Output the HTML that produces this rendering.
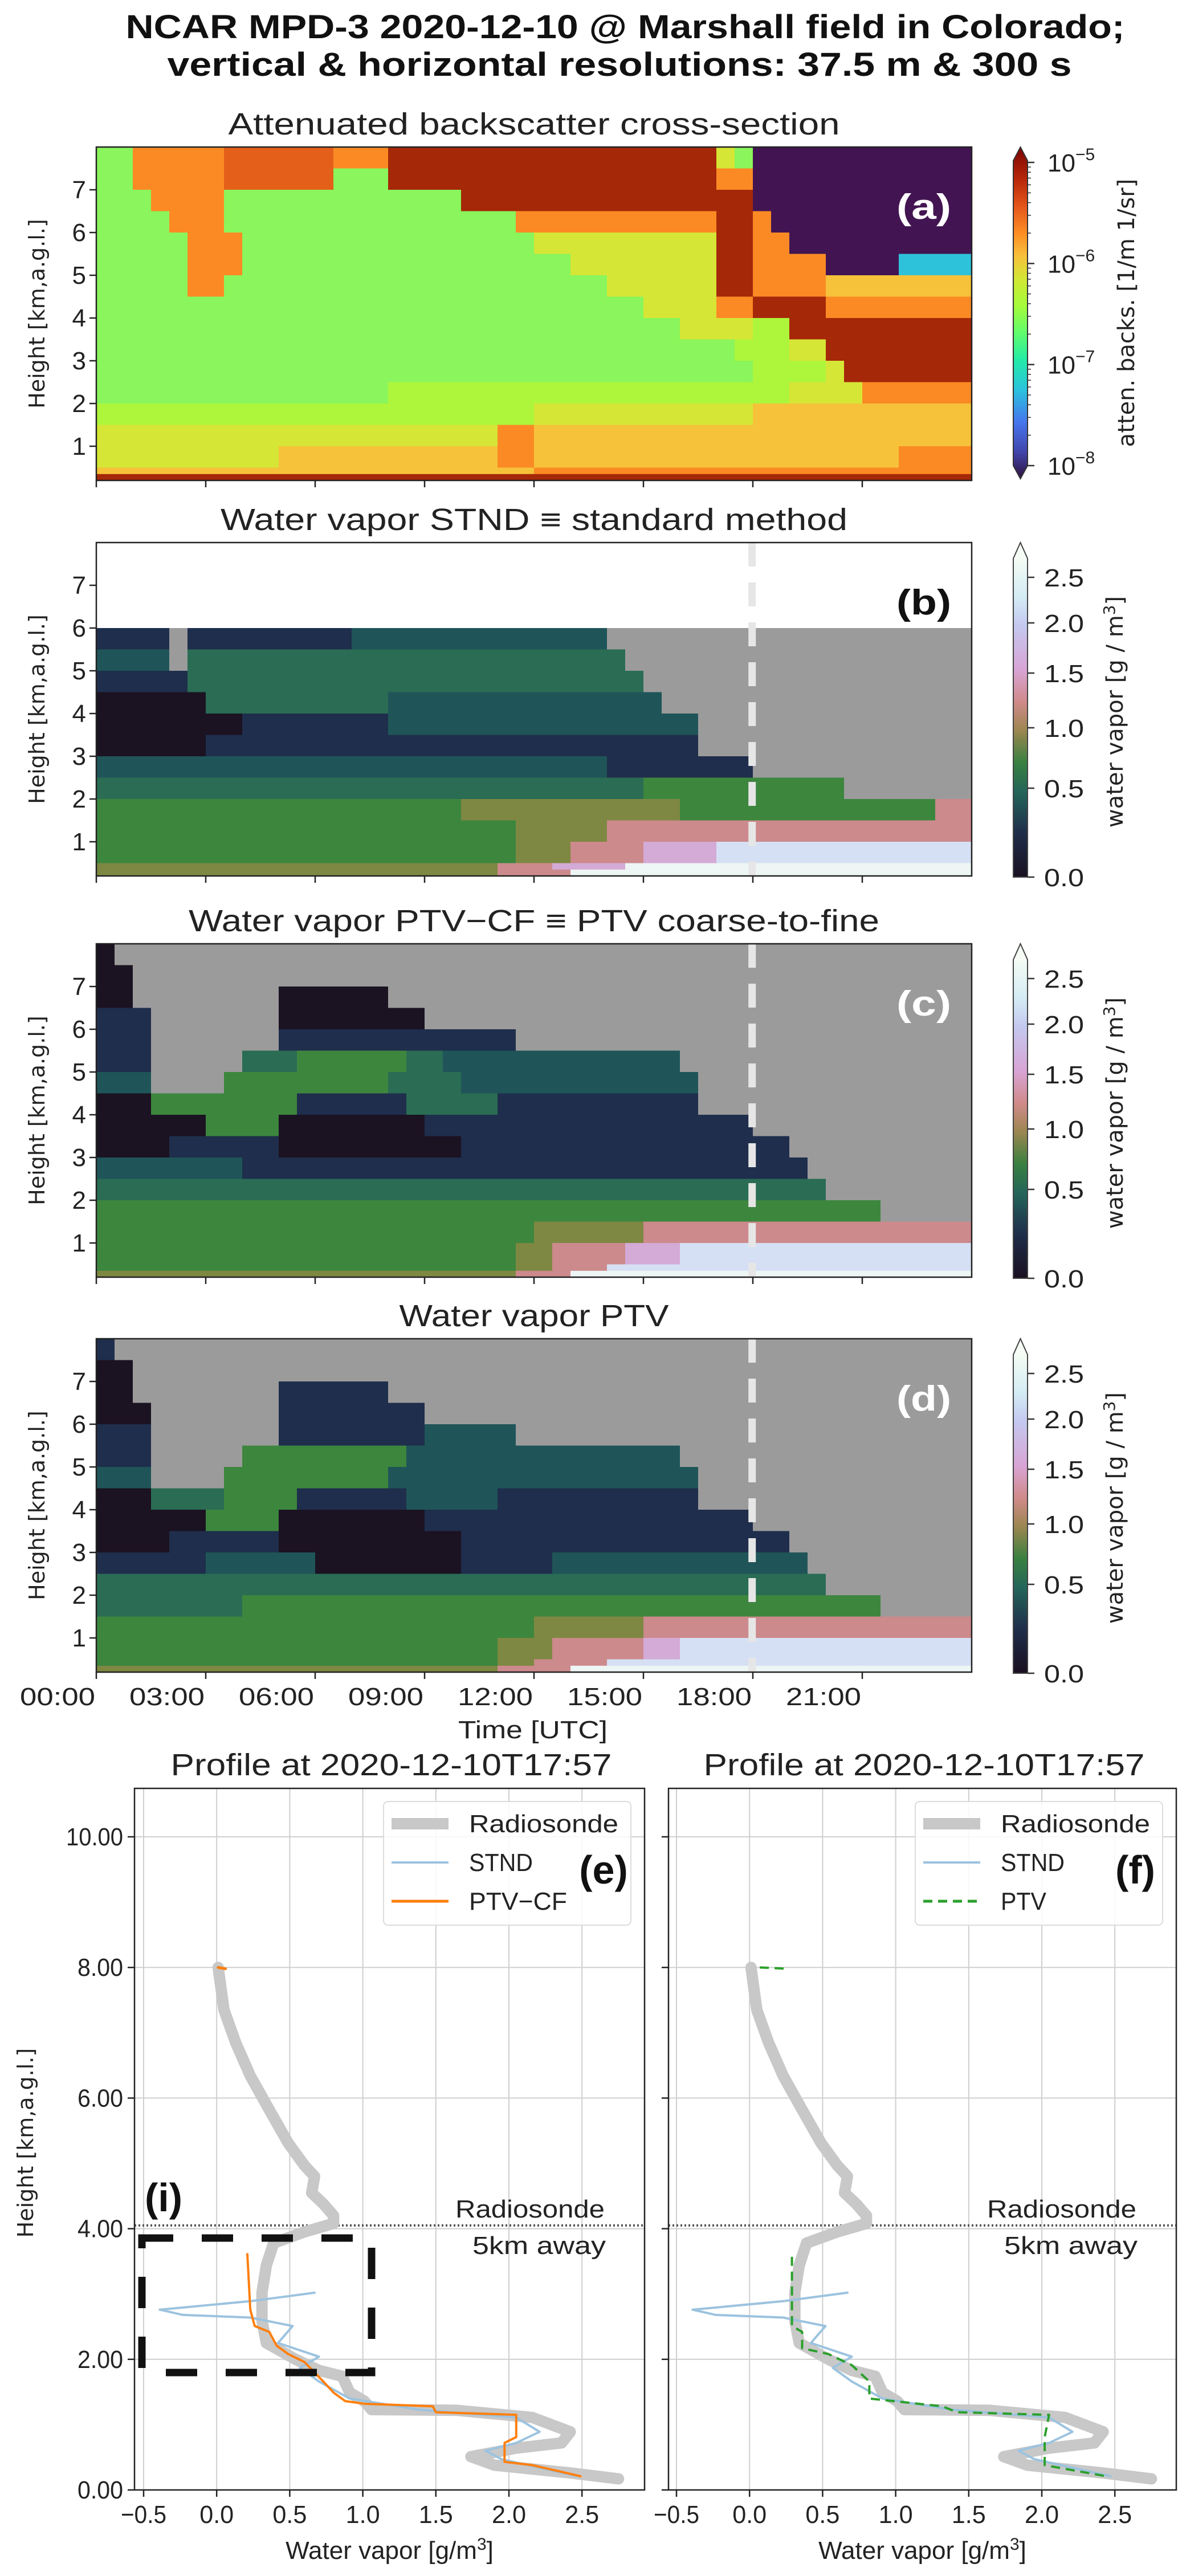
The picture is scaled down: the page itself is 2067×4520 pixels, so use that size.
<!DOCTYPE html>
<html><head><meta charset="utf-8"><title>NCAR MPD-3 water vapor</title>
<style>html,body{margin:0;padding:0;background:#fff}svg{display:block}</style></head>
<body>
<svg id="fig" xmlns="http://www.w3.org/2000/svg" width="2067" height="4520" viewBox="0 0 2067 4520" font-family="Liberation Sans, sans-serif">
<rect x="0" y="0" width="2067" height="4520" fill="#fff"/>
<defs>
<linearGradient id="turbo" x1="0" y1="1" x2="0" y2="0">
<stop offset="0" stop-color="#30123b"/><stop offset="0.08" stop-color="#4145ab"/><stop offset="0.17" stop-color="#4675ed"/><stop offset="0.27" stop-color="#2ac4dd"/><stop offset="0.36" stop-color="#24eca6"/><stop offset="0.44" stop-color="#61fc6c"/><stop offset="0.52" stop-color="#a4fc3b"/><stop offset="0.6" stop-color="#d1e834"/><stop offset="0.67" stop-color="#f7c13a"/><stop offset="0.74" stop-color="#fd8e24"/><stop offset="0.82" stop-color="#e5561a"/><stop offset="0.9" stop-color="#b8280a"/><stop offset="1" stop-color="#7a0403"/>
</linearGradient>
<linearGradient id="wv" x1="0" y1="1" x2="0" y2="0">
<stop offset="0" stop-color="#1a1020"/><stop offset="0.14" stop-color="#1f2e4a"/><stop offset="0.27" stop-color="#24665a"/><stop offset="0.36" stop-color="#3a8040"/><stop offset="0.46" stop-color="#9c8650"/><stop offset="0.55" stop-color="#d08a8a"/><stop offset="0.65" stop-color="#d8a4d4"/><stop offset="0.79" stop-color="#c4c8f0"/><stop offset="0.88" stop-color="#d4ecf4"/><stop offset="1" stop-color="#f4fbf4"/>
</linearGradient>
</defs>
<g id="root"></g>
</svg>
<script>
// ---------- data ----------
const timeTickLabels = ["00:00","03:00","06:00","09:00","12:00","15:00","18:00","21:00"];
const timeTickHours = [0,3,6,9,12,15,18,21];
const heightTicks = [1,2,3,4,5,6,7];
const rowEdgesKm = [8,7.5,7,6.5,6,5.5,5,4.5,4,3.5,3,2.5,2,1.5,1,0.5,0.35,0.2];
const profileHour = 17.98;
const backscatterRows = ["2g5o6O3o18r1y1g12D","2g5o6O3g18r2o12D","3g4o13g16r12D","4g3o16g11o2r1o11D","5g3o16g10y2r2o10D","5g3o18g8y2r4o4D4c","5g2o21g6y2r4o8Y","30g4y2o4r8o","32g4y2l10r","35g3l2y8r","36g4l1y7r","16g22l4y6o","24l12y12Y","22y2o24Y","10y12Y2o20Y4o","24Y24o","48r"];
const stndRows = ["48e","48e","48e","48e","4n1a9n14t20a","4t1a24T19a","5n25T18a","6k10T15t17a","8k8n17t15a","6k27n15a","28t8n12a","30T11G7a","20G12v14G2p","23G5v20p","23G3v4p4P14w","22v3p4P19W","22v4p22W"];
const ptvcfRows = ["1k47a","2k46a","2k8a6k32a","3n7a8k30a","3n7a13n25a","3n5a3T6G2T13t16a","3t4a9G4T13t15a","3k4G4G6n5T11n15a","6k4G8k18n12a","4k6n10k18n10a","8t12n19n9a","40T8a","43G5a","24G6v18p","23G2v4p3P16w","23G2v3p20w","23v3p22W"];
const ptvRows = ["1n47a","2k46a","2k8a6n32a","3k7a8n30a","3n7a8n5t25a","3n5a9G2t13t16a","3t4a9G4t13t15a","3k4T4G6n5t11n15a","6k4G8k18n12a","4k6n10k18n10a","6n6t8k5n14t9a","40T8a","8T35G5a","24G6v18p","22G3v5p2P16w","22G2v4p20w","22v4p22W"];
const backscatterColors = {D:"#421552",c:"#2ec2da",g:"#8af55c",l:"#adf63c",y:"#d6e636",Y:"#f6c23a",o:"#fb8a24",O:"#e4601a",r:"#a52808"};
const wvColors = {k:"#1b1222",n:"#1f2e4c",t:"#1f5558",T:"#2a6c54",G:"#3d863e",v:"#7e8842",p:"#cc8a8c",P:"#d4aad6",w:"#d6e0f4",W:"#eef5f5",a:"#9b9b9b",e:"#ffffff"};
// profiles (value g/m3, height km)
const radiosondeVal = [0.01,0.05,0.13,0.23,0.36,0.49,0.6,0.67,0.65,0.73,0.8,0.8,0.6,0.39,0.34,0.31,0.31,0.34,0.54,0.7,0.86,0.91,1.01,1.06,1.64,2.16,2.42,2.36,2.05,1.74,1.9,2.42,2.75];
const radiosondeKm = [8.0,7.35,6.85,6.34,5.82,5.31,4.97,4.8,4.55,4.38,4.2,4.08,3.95,3.78,3.44,3.02,2.59,2.25,2.0,1.83,1.74,1.49,1.36,1.23,1.22,1.11,0.89,0.72,0.64,0.51,0.38,0.26,0.17];
const stndVal = [0.67,0.23,-0.39,-0.23,0.23,0.52,0.42,0.7,0.57,0.7,0.91,1.38,2.05,2.21,2.05,1.84,1.95,2.47];
const stndKm = [3.02,2.89,2.76,2.68,2.64,2.51,2.25,2.04,1.87,1.66,1.4,1.23,1.11,0.89,0.72,0.6,0.47,0.21];
const ptvcfTopVal = [0.01,0.06];
const ptvcfTopKm = [8.0,7.98];
const ptvcfVal = [0.21,0.23,0.26,0.36,0.41,0.49,0.6,0.73,0.8,0.88,1.01,1.48,1.5,2.05,2.05,1.97,1.97,2.16,2.49];
const ptvcfKm = [3.61,2.76,2.51,2.42,2.21,2.08,1.96,1.66,1.49,1.36,1.32,1.28,1.19,1.15,0.81,0.72,0.43,0.38,0.21];
const ptvTopVal = [0.07,0.27];
const ptvTopKm = [8.0,7.98];
const ptvVal = [0.29,0.29,0.36,0.36,0.54,0.7,0.82,0.82,1.32,1.42,2.05,2.02,2.02,2.44];
const ptvKm = [3.57,2.51,2.42,2.17,2.08,1.91,1.66,1.4,1.28,1.19,1.15,0.81,0.38,0.21];
const profXTicks = [-0.5,0,0.5,1,1.5,2,2.5];
const profXLabels = ["\u22120.5","0.0","0.5","1.0","1.5","2.0","2.5"];
const profYTicks = [0,2,4,6,8,10];
const profYLabels = ["0.00","2.00","4.00","6.00","8.00","10.00"];
const wvCbarTicks = [0,0.5,1,1.5,2,2.5];
const wvCbarLabels = ["0.0","0.5","1.0","1.5","2.0","2.5"];
const bsCbarExps = ["\u22125","\u22126","\u22127","\u22128"];

// ---------- helpers ----------
const NS = "http://www.w3.org/2000/svg";
const root = document.getElementById("root");
function mk(tag, attrs, parent, text){
  const e = document.createElementNS(NS, tag);
  for (const k in attrs) e.setAttribute(k, attrs[k]);
  if (text !== undefined) e.textContent = text;
  (parent || root).appendChild(e);
  return e;
}
function parseRLE(s){
  const out = []; const re = /(\d+)([A-Za-z])/g; let m;
  while ((m = re.exec(s))) out.push([parseInt(m[1]), m[2]]);
  return out;
}
const X0 = 169, X1 = 1705;
function tx(h){ return X0 + (X1 - X0) * h / 24; }

function heatPanel(name, top, rows, colors, title, label, labelColor, dashed){
  const g = mk("g", {});
  
  
  const ky = 75;
  const hy = km => top + (8 - km) * ky;
  rows.forEach((row, r) => {
    let col = 0;
    parseRLE(row).forEach(([n, c]) => {
      const x = tx(col * 0.5), x2 = tx(Math.min(48, col + n) * 0.5);
      const y = hy(rowEdgesKm[r]), y2 = hy(rowEdgesKm[r + 1]);
      const rc = mk("rect", {x: x.toFixed(1), y: y.toFixed(1), width: (x2 - x + 0.6).toFixed(1), height: (y2 - y + 0.6).toFixed(1), fill: colors[c] || "#999"}, g);
      
      
      col += n;
    });
  });
  const bottom = hy(0.2);
  if (dashed){
    const dl = mk("line", {x1: tx(profileHour), x2: tx(profileHour), y1: top, y2: bottom, stroke: "#e6e6e6", "stroke-width": 13, "stroke-dasharray": "42 28"}, g);
    
    
  }
  const fr = mk("rect", {x: X0, y: top, width: X1 - X0, height: bottom - top, fill: "none", stroke: "#222", "stroke-width": 2.5}, g);
  
  
  heightTicks.forEach(k => {
    const y = hy(k);
    mk("line", {x1: X0 - 12, x2: X0, y1: y, y2: y, stroke: "#222", "stroke-width": 2.5}, g);
    const t = mk("text", {x: X0 - 18, y: y + 15, "font-size": 44, "text-anchor": "end", fill: "#222"}, g, String(k));
    
    
  });
  timeTickHours.forEach(h => {
    mk("line", {x1: tx(h), x2: tx(h), y1: bottom, y2: bottom + 12, stroke: "#222", "stroke-width": 2.5}, g);
  });
  const yl = mk("text", {x: 0, y: 0, "font-family": "DejaVu Sans, sans-serif", "font-size": 38, "text-anchor": "middle", transform: `translate(78 ${(top + bottom) / 2}) rotate(-90)`, fill: "#222"}, g, "Height [km,a.g.l.]");
  
  
  const tt = mk("text", {x: 937, y: top - 22, "font-size": 54, "text-anchor": "middle", fill: "#222", textLength: title[1], lengthAdjust: "spacingAndGlyphs"}, g, title[0]);
  
  
  const pl = mk("text", {x: 1621, y: top + 126, "font-size": 62, "font-weight": "bold", "text-anchor": "middle", fill: labelColor, textLength: 96, lengthAdjust: "spacingAndGlyphs"}, g, label);
  
  
  return {g, top, bottom};
}

// ---------- title ----------
const t1 = mk("text", {x: 1097, y: 67, "font-size": 58, "font-weight": "bold", "text-anchor": "middle", fill: "#111", textLength: 1753, lengthAdjust: "spacingAndGlyphs"}, root, "NCAR MPD-3 2020-12-10 @ Marshall field in Colorado;");


const t2 = mk("text", {x: 1087, y: 133, "font-size": 58, "font-weight": "bold", "text-anchor": "middle", fill: "#111", textLength: 1587, lengthAdjust: "spacingAndGlyphs"}, root, "vertical & horizontal resolutions: 37.5 m & 300 s");



// ---------- heat panels ----------
const pa = heatPanel("backscatter", 258, backscatterRows, backscatterColors, ["Attenuated backscatter cross-section", 1073], "(a)", "#fff", false);
const pb = heatPanel("stnd", 952, stndRows, wvColors, ["Water vapor STND \u2261  standard method", 1100], "(b)", "#111", true);
const pc = heatPanel("ptv-cf", 1656, ptvcfRows, wvColors, ["Water vapor PTV\u2212CF \u2261  PTV coarse-to-fine", 1212], "(c)", "#fff", true);
const pd = heatPanel("ptv", 2349, ptvRows, wvColors, ["Water vapor PTV", 473], "(d)", "#fff", true);

timeTickHours.forEach((h, i) => {
  const t = mk("text", {x: tx(h) - 2, y: pd.bottom + 58, "font-size": 44, "text-anchor": "end", fill: "#222", textLength: 132, lengthAdjust: "spacingAndGlyphs"}, root, timeTickLabels[i]);
  
  
});
const xt = mk("text", {x: 935, y: 3050, "font-size": 44, "text-anchor": "middle", fill: "#222", textLength: 262, lengthAdjust: "spacingAndGlyphs"}, root, "Time [UTC]");



// ---------- colorbars ----------
const CBX = 1778, CBW = 25;
(function(){
  const top = 258, bTop = 282, bBot = 817, bot = 840;
  const g = mk("g", {});
  
  
  mk("polygon", {points: `${CBX},${bTop} ${CBX + CBW / 2},${top} ${CBX + CBW},${bTop} ${CBX + CBW},${bBot} ${CBX + CBW / 2},${bot} ${CBX},${bBot}`, fill: "url(#turbo)", stroke: "#333", "stroke-width": 2}, g);
  bsCbarExps.forEach((e, i) => {
    const y = 285 + i * (817 - 285) / 3;
    mk("line", {x1: CBX + CBW, x2: CBX + CBW + 12, y1: y, y2: y, stroke: "#333", "stroke-width": 2.5}, g);
    for (let m = 2; m <= 9 && i < 3; m++) {
      const ym = y + (817 - 285) / 3 * (1 - Math.log10(m));
      mk("line", {x1: CBX + CBW, x2: CBX + CBW + 6, y1: ym, y2: ym, stroke: "#333", "stroke-width": 1.5}, g);
    }
    const t = mk("text", {x: 1838, y: y + 16, "font-size": 44, fill: "#222"}, g);
    
    
    mk("tspan", {}, t, "10");
    mk("tspan", {dy: -20, "font-size": 30}, t, e);
  });
  const lb = mk("text", {x: 0, y: 0, "font-family": "DejaVu Sans, sans-serif", "font-size": 40, "text-anchor": "middle", transform: `translate(1990 ${(top + bot) / 2}) rotate(-90)`, fill: "#222"}, g, "atten. backs. [1/m 1/sr]");
  
  
})();
const wvTickOffsets = [0, 156, 262, 358, 446, 526];
[pb, pc, pd].forEach(p => {
  const bot = p.bottom + 2, top = p.top, bTop = top + 28;
  const g = mk("g", {});
  
  
  mk("rect", {x: CBX, y: bTop, width: CBW, height: bot - bTop, fill: "url(#wv)"}, g);
  mk("polygon", {points: `${CBX},${bTop} ${CBX + CBW / 2},${top} ${CBX + CBW},${bTop}`, fill: "#f6fbf6"}, g);
  mk("polygon", {points: `${CBX},${bot} ${CBX},${bTop} ${CBX + CBW / 2},${top} ${CBX + CBW},${bTop} ${CBX + CBW},${bot}`, fill: "none", stroke: "#444", "stroke-width": 2}, g);
  wvCbarTicks.forEach((v, i) => {
    const y = bot - wvTickOffsets[i];
    mk("line", {x1: CBX + CBW, x2: CBX + CBW + 12, y1: y, y2: y, stroke: "#333", "stroke-width": 2.5}, g);
    const t = mk("text", {x: 1832, y: y + 16, "font-size": 44, fill: "#222", textLength: 70, lengthAdjust: "spacingAndGlyphs"}, g, wvCbarLabels[i]);
    
    
  });
  const lb = mk("text", {x: 0, y: 0, "font-family": "DejaVu Sans, sans-serif", "font-size": 40, "text-anchor": "middle", transform: `translate(1970 ${bot - 290}) rotate(-90)`, fill: "#222"}, g);
  
  
  mk("tspan", {}, lb, "water vapor [g / m");
  mk("tspan", {dy: -14, "font-size": 28}, lb, "3");
  mk("tspan", {dy: 14}, lb, "]");
});

// ---------- profile panels ----------
const PY0 = 4369, PKY = 114.6, PTOP = 3138;
function profPanel(name, left, right, x0, showYLabels, series, legendItems, label){
  const px = v => x0 + (v + 0.5) * 256.4;
  const py = k => PY0 - k * PKY;
  const g = mk("g", {});
  
  
  profXTicks.forEach((v, i) => {
    mk("line", {x1: px(v), x2: px(v), y1: PTOP, y2: PY0, stroke: "#cfcfcf", "stroke-width": 2}, g);
    mk("line", {x1: px(v), x2: px(v), y1: PY0, y2: PY0 + 12, stroke: "#222", "stroke-width": 2.5}, g);
    const t = mk("text", {x: px(v), y: PY0 + 58, "font-size": 44, "text-anchor": "middle", fill: "#222", textLength: profXLabels[i].length * 20, lengthAdjust: "spacingAndGlyphs"}, g, profXLabels[i]);
    
    
  });
  profYTicks.forEach((k, i) => {
    mk("line", {x1: left, x2: right, y1: py(k), y2: py(k), stroke: "#cfcfcf", "stroke-width": 2}, g);
    mk("line", {x1: left - 12, x2: left, y1: py(k), y2: py(k), stroke: "#222", "stroke-width": 2.5}, g);
    if (showYLabels){
      const t = mk("text", {x: left - 20, y: py(k) + 15, "font-size": 44, "text-anchor": "end", fill: "#222", textLength: profYLabels[i].length * 20, lengthAdjust: "spacingAndGlyphs"}, g, profYLabels[i]);
      
      
    }
  });
  const dot = mk("line", {x1: left, x2: right, y1: py(4.05), y2: py(4.05), stroke: "#555", "stroke-width": 4, "stroke-dasharray": "3 4"}, g);
  
  
  const r1 = mk("text", {x: right - 70, y: py(4.05) - 14, "font-size": 44, "text-anchor": "end", fill: "#222", textLength: 262, lengthAdjust: "spacingAndGlyphs"}, g, "Radiosonde");
  
  
  const r2 = mk("text", {x: right - 68, y: py(4.05) + 50, "font-size": 44, "text-anchor": "end", fill: "#222", textLength: 234, lengthAdjust: "spacingAndGlyphs"}, g, "5km away");
  
  
  series.forEach(s => {
    const pts = s.v.map((v, i) => `${px(v).toFixed(1)},${py(s.k[i]).toFixed(1)}`).join(" ");
    const pl = mk("polyline", {points: pts, fill: "none", stroke: s.c, "stroke-width": s.w, "stroke-linejoin": "round", "stroke-linecap": s.dash ? "butt" : "round", "stroke-dasharray": s.dash || "none"}, g);
    
    
  });
  mk("rect", {x: left, y: PTOP, width: right - left, height: PY0 - PTOP, fill: "none", stroke: "#222", "stroke-width": 2.5}, g);
  // legend
  const lg = mk("g", {}, g);
  
  
  const lx = right - 458;
  mk("rect", {x: lx, y: 3161, width: 434, height: 217, rx: 8, fill: "#fff", "fill-opacity": 0.85, stroke: "#dcdcdc", "stroke-width": 2}, lg);
  legendItems.forEach((it, i) => {
    const y = 3200 + i * 68;
    mk("line", {x1: lx + 14, x2: lx + 114, y1: y, y2: y, stroke: it.c, "stroke-width": it.w, "stroke-dasharray": it.dash || "none"}, lg);
    const t = mk("text", {x: lx + 150, y: y + 15, "font-size": 44, fill: "#222", textLength: it.tl, lengthAdjust: "spacingAndGlyphs"}, lg, it.t);
    
    
  });
  const pl = mk("text", {x: right - 72, y: 3305, "font-size": 70, "font-weight": "bold", "text-anchor": "middle", fill: "#111"}, g, label);
  
  
  const tt = mk("text", {x: (left + right) / 2 + 3, y: 3115, "font-size": 54, "text-anchor": "middle", fill: "#222", textLength: 774, lengthAdjust: "spacingAndGlyphs"}, g, "Profile at 2020-12-10T17:57");
  
  
  const xl = mk("text", {x: (left + right) / 2, y: 4490, "font-size": 44, "text-anchor": "middle", fill: "#222"}, g);
  
  
  mk("tspan", {}, xl, "Water vapor [g/m");
  mk("tspan", {dy: -16, "font-size": 30}, xl, "3");
  mk("tspan", {dy: 16}, xl, "]");
  return {px, py};
}
const grayW = 20;
const eP = profPanel("ptv-cf", 236, 1131, 252, true, [
  {name: "radiosonde-line", v: radiosondeVal, k: radiosondeKm, c: "#c8c8c8", w: grayW},
  {name: "stnd-line", v: stndVal, k: stndKm, c: "#9cc3df", w: 4},
  {name: "ptv-cf-line", v: ptvcfVal, k: ptvcfKm, c: "#ff7f0e", w: 4},
  {name: "ptv-cf-line-top", v: ptvcfTopVal, k: ptvcfTopKm, c: "#ff7f0e", w: 5}
], [{t: "Radiosonde", c: "#c8c8c8", w: 20, tl: 262}, {t: "STND", c: "#9cc3df", w: 4, tl: 112}, {t: "PTV\u2212CF", c: "#ff7f0e", w: 5, tl: 172}], "(e)");
const fP = profPanel("ptv", 1173, 2064, 1187, false, [
  {name: "radiosonde-line", v: radiosondeVal, k: radiosondeKm, c: "#c8c8c8", w: grayW},
  {name: "stnd-line", v: stndVal, k: stndKm, c: "#9cc3df", w: 4},
  {name: "ptv-line", v: ptvVal, k: ptvKm, c: "#2ca02c", w: 4, dash: "16 10"},
  {name: "ptv-line-top", v: ptvTopVal, k: ptvTopKm, c: "#2ca02c", w: 4, dash: "16 10"}
], [{t: "Radiosonde", c: "#c8c8c8", w: 20, tl: 262}, {t: "STND", c: "#9cc3df", w: 4, tl: 112}, {t: "PTV", c: "#2ca02c", w: 5, dash: "16 10", tl: 80}], "(f)");

const ylp = mk("text", {x: 0, y: 0, "font-family": "DejaVu Sans, sans-serif", "font-size": 38, "text-anchor": "middle", transform: "translate(58 3760) rotate(-90)", fill: "#222"}, root, "Height [km,a.g.l.]");


// inset box (i)
const ib = mk("rect", {x: 249, y: 3927, width: 403, height: 236, fill: "none", stroke: "#111", "stroke-width": 13, "stroke-dasharray": "55 50"}, root);


const il = mk("text", {x: 287, y: 3880, "font-size": 70, "font-weight": "bold", "text-anchor": "middle", fill: "#111"}, root, "(i)");


</script>
</body></html>
